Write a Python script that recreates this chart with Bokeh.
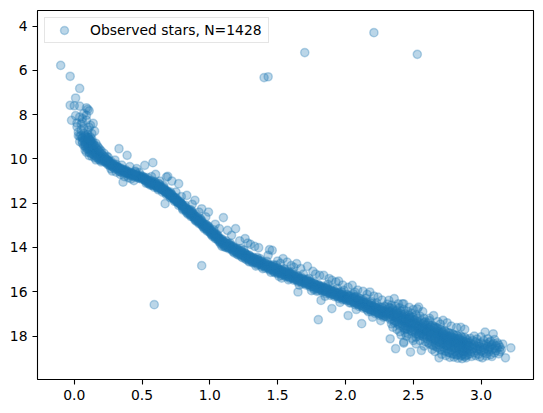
from bokeh.plotting import figure
from bokeh.models import Range1d, FixedTicker, PrintfTickFormatter
from bokeh.embed import file_html
from bokeh.resources import INLINE

# Colour index (BP-RP) and apparent G magnitude of cluster members, grouped along the main sequence
ms_top = [
    (-0.10, 5.78), (-0.03, 6.27), (0.04, 6.82), (0.01, 7.25), (-0.03, 7.58), (0.00, 7.60), (0.04, 7.62), (0.09, 7.70), (0.11, 7.83), (0.10, 7.76),
    (-0.02, 8.26), (0.04, 8.11), (0.06, 8.34), (0.09, 8.03), (0.03, 8.79), (0.04, 9.22), (0.12, 8.48), (0.13, 8.86), (0.02, 8.55), (0.07, 8.62),
    (0.05, 8.42), (0.08, 8.95), (0.10, 8.70), (0.06, 9.05), (0.11, 9.12), (0.03, 8.95), (0.09, 8.25), (0.14, 8.40), (0.01, 8.05), (0.07, 7.95),
    (0.12, 9.20), (0.08, 9.35), (0.05, 8.70), (0.10, 9.00), (0.13, 9.30), (0.04, 8.98), (0.15, 8.75), (0.06, 8.18), (0.11, 8.58), (0.02, 8.38),
]

ms_upper = [
    (0.07, 8.85), (0.10, 8.90), (0.05, 8.95), (0.09, 9.00), (0.12, 9.02), (0.06, 9.05), (0.08, 9.08), (0.11, 9.10), (0.13, 9.12), (0.07, 9.15),
    (0.09, 9.18), (0.10, 9.20), (0.12, 9.22), (0.08, 9.25), (0.14, 9.26), (0.11, 9.28), (0.06, 9.30), (0.09, 9.32), (0.13, 9.34), (0.10, 9.36),
    (0.12, 9.38), (0.15, 9.40), (0.08, 9.42), (0.11, 9.43), (0.14, 9.45), (0.10, 9.47), (0.13, 9.48), (0.16, 9.50), (0.12, 9.52), (0.09, 9.53),
    (0.14, 9.55), (0.11, 9.57), (0.17, 9.58), (0.13, 9.60), (0.15, 9.62), (0.12, 9.63), (0.18, 9.64), (0.14, 9.66), (0.16, 9.68), (0.11, 9.70),
    (0.15, 9.71), (0.19, 9.72), (0.13, 9.74), (0.17, 9.75), (0.16, 9.77), (0.20, 9.78), (0.14, 9.80), (0.18, 9.81), (0.15, 9.83), (0.21, 9.84),
    (0.17, 9.86), (0.19, 9.87), (0.16, 9.89), (0.22, 9.90), (0.18, 9.92), (0.20, 9.93), (0.17, 9.95), (0.23, 9.96), (0.19, 9.98), (0.21, 9.99),
    (0.18, 10.01), (0.24, 10.02), (0.20, 10.04), (0.22, 10.05), (0.19, 10.07), (0.25, 10.08), (0.21, 10.10), (0.23, 10.11), (0.26, 10.12), (0.20, 10.14),
    (0.10, 9.55), (0.08, 9.60), (0.12, 9.75), (0.07, 9.40), (0.15, 9.95), (0.09, 9.70), (0.13, 9.88), (0.06, 9.20), (0.16, 10.05), (0.11, 9.85),
    (0.18, 9.50), (0.14, 9.35), (0.16, 9.30), (0.20, 9.65), (0.12, 9.15), (0.22, 9.75), (0.17, 9.42), (0.24, 9.88), (0.19, 9.58), (0.10, 9.05),
]

ms_bend = [
    (0.22, 10.08), (0.23, 9.98), (0.23, 10.15), (0.24, 10.05), (0.24, 10.20), (0.25, 10.12), (0.25, 10.27), (0.26, 10.16), (0.26, 10.30), (0.27, 10.20),
    (0.27, 10.10), (0.28, 10.26), (0.28, 10.35), (0.29, 10.22), (0.29, 10.40), (0.30, 10.30), (0.30, 10.45), (0.31, 10.35), (0.31, 10.25), (0.32, 10.48),
    (0.32, 10.38), (0.33, 10.44), (0.33, 10.55), (0.34, 10.42), (0.34, 10.58), (0.35, 10.50), (0.35, 10.62), (0.36, 10.47), (0.36, 10.57), (0.37, 10.65),
    (0.37, 10.52), (0.38, 10.60), (0.38, 10.50), (0.39, 10.66), (0.39, 10.56), (0.40, 10.70), (0.40, 10.58), (0.41, 10.64), (0.41, 10.75), (0.42, 10.62),
    (0.42, 10.72), (0.43, 10.66), (0.43, 10.78), (0.44, 10.68), (0.44, 10.76), (0.45, 10.72), (0.45, 10.82), (0.46, 10.70), (0.46, 10.80), (0.47, 10.76),
    (0.47, 10.86), (0.48, 10.78), (0.48, 10.88), (0.49, 10.82), (0.49, 10.74), (0.50, 10.86), (0.50, 10.92), (0.30, 10.33), (0.33, 10.40), (0.36, 10.52),
    (0.24, 10.10), (0.26, 10.24), (0.28, 10.31), (0.31, 10.40), (0.34, 10.47), (0.37, 10.58), (0.40, 10.65), (0.43, 10.70), (0.46, 10.77), (0.49, 10.85),
    (0.25, 10.18), (0.27, 10.28), (0.29, 10.33), (0.32, 10.42), (0.35, 10.54), (0.38, 10.55), (0.41, 10.68), (0.44, 10.73), (0.47, 10.79), (0.50, 10.80),
    (0.23, 10.05), (0.26, 10.14), (0.29, 10.27), (0.32, 10.36), (0.35, 10.46), (0.39, 10.61), (0.42, 10.65), (0.45, 10.75), (0.48, 10.83), (0.38, 10.64),
    (0.33, 9.54), (0.39, 9.84), (0.52, 10.29), (0.58, 10.17), (0.46, 10.44), (0.36, 11.05), (0.30, 10.05), (0.41, 10.35), (0.28, 10.55), (0.44, 10.98),
    (0.35, 10.28), (0.27, 10.45), (0.40, 10.85), (0.31, 10.60), (0.45, 10.55), (0.48, 10.62), (0.25, 9.92), (0.37, 10.80), (0.42, 10.90), (0.34, 10.70),
]

ms_knee = [
    (0.51, 10.90), (0.51, 10.80), (0.52, 10.97), (0.52, 10.86), (0.53, 11.02), (0.53, 10.90), (0.54, 10.95), (0.54, 11.08), (0.55, 10.98), (0.55, 11.12),
    (0.56, 11.00), (0.56, 11.10), (0.57, 11.05), (0.57, 11.18), (0.58, 11.08), (0.58, 11.20), (0.59, 11.12), (0.59, 11.03), (0.60, 11.22), (0.60, 11.12),
    (0.61, 11.18), (0.61, 11.30), (0.62, 11.22), (0.62, 11.34), (0.63, 11.25), (0.63, 11.15), (0.64, 11.36), (0.64, 11.28), (0.65, 11.40), (0.65, 11.30),
    (0.66, 11.45), (0.66, 11.35), (0.67, 11.48), (0.67, 11.40), (0.68, 11.55), (0.68, 11.44), (0.69, 11.58), (0.69, 11.50), (0.70, 11.64), (0.70, 11.54),
    (0.71, 11.68), (0.71, 11.58), (0.72, 11.74), (0.72, 11.64), (0.73, 11.80), (0.73, 11.70), (0.74, 11.85), (0.74, 11.75), (0.75, 11.90), (0.75, 11.80),
    (0.76, 11.96), (0.76, 11.86), (0.77, 12.00), (0.77, 11.92), (0.78, 12.06), (0.78, 11.96), (0.79, 12.10), (0.79, 12.02), (0.80, 12.16), (0.80, 12.08),
    (0.52, 10.94), (0.55, 11.02), (0.58, 11.14), (0.61, 11.24), (0.64, 11.32), (0.67, 11.44), (0.70, 11.60), (0.73, 11.76), (0.76, 11.92), (0.79, 12.06),
    (0.53, 10.96), (0.56, 11.06), (0.59, 11.16), (0.62, 11.26), (0.65, 11.36), (0.68, 11.50), (0.71, 11.64), (0.74, 11.80), (0.77, 11.96), (0.80, 12.12),
    (0.54, 11.00), (0.57, 11.10), (0.60, 11.18), (0.63, 11.30), (0.66, 11.40), (0.69, 11.54), (0.72, 11.70), (0.75, 11.86), (0.78, 12.00), (0.51, 10.86),
    (0.55, 11.06), (0.58, 11.16), (0.61, 11.20), (0.64, 11.34), (0.67, 11.46), (0.70, 11.58), (0.73, 11.74), (0.76, 11.90), (0.79, 12.04), (0.62, 11.28),
    (0.57, 10.98), (0.60, 11.06), (0.63, 11.20), (0.66, 11.30), (0.69, 11.46), (0.72, 11.60), (0.75, 11.76), (0.78, 11.92), (0.53, 11.10), (0.59, 11.28),
    (0.65, 11.50), (0.71, 11.76), (0.77, 12.10), (0.68, 11.62), (0.74, 11.92), (0.56, 11.18), (0.62, 11.40), (0.80, 12.24), (0.54, 10.84), (0.66, 11.22),
    (0.69, 10.79), (0.72, 11.00), (0.77, 11.12), (0.68, 10.82), (0.60, 10.70), (0.67, 12.02), (0.75, 11.50), (0.57, 10.80), (0.63, 11.00), (0.79, 11.70),
]

ms_steep = [
    (0.81, 12.14), (0.81, 12.26), (0.82, 12.20), (0.82, 12.32), (0.83, 12.26), (0.83, 12.38), (0.84, 12.30), (0.84, 12.42), (0.85, 12.36), (0.85, 12.48),
    (0.86, 12.40), (0.86, 12.54), (0.87, 12.46), (0.87, 12.60), (0.88, 12.52), (0.88, 12.64), (0.89, 12.56), (0.89, 12.70), (0.90, 12.62), (0.90, 12.76),
    (0.91, 12.68), (0.91, 12.80), (0.92, 12.74), (0.92, 12.86), (0.93, 12.78), (0.93, 12.92), (0.94, 12.84), (0.94, 12.98), (0.95, 12.90), (0.95, 13.04),
    (0.96, 12.96), (0.96, 13.08), (0.97, 13.02), (0.97, 13.14), (0.98, 13.06), (0.98, 13.20), (0.99, 13.12), (0.99, 13.26), (1.00, 13.18), (1.00, 13.32),
    (1.01, 13.24), (1.01, 13.38), (1.02, 13.30), (1.02, 13.42), (1.03, 13.36), (1.03, 13.48), (1.04, 13.40), (1.04, 13.54), (1.05, 13.46), (1.05, 13.60),
    (1.06, 13.52), (1.06, 13.66), (1.07, 13.58), (1.07, 13.70), (1.08, 13.62), (1.08, 13.76), (1.09, 13.68), (1.09, 13.80), (1.10, 13.72), (1.10, 13.86),
    (0.82, 12.24), (0.85, 12.42), (0.88, 12.58), (0.91, 12.74), (0.94, 12.90), (0.97, 13.08), (1.00, 13.24), (1.03, 13.42), (1.06, 13.58), (1.09, 13.74),
    (0.83, 12.32), (0.86, 12.48), (0.89, 12.64), (0.92, 12.80), (0.95, 12.96), (0.98, 13.14), (1.01, 13.30), (1.04, 13.48), (1.07, 13.64), (1.10, 13.78),
    (0.84, 12.34), (0.87, 12.52), (0.90, 12.68), (0.93, 12.86), (0.96, 13.02), (0.99, 13.18), (1.02, 13.36), (1.05, 13.52), (1.08, 13.68), (0.81, 12.20),
    (0.82, 12.10), (0.85, 12.30), (0.88, 12.46), (0.91, 12.62), (0.94, 12.78), (0.97, 12.96), (1.00, 13.12), (1.03, 13.30), (1.06, 13.46), (1.09, 13.62),
    (0.83, 12.44), (0.86, 12.60), (0.89, 12.76), (0.92, 12.92), (0.95, 13.08), (0.98, 13.26), (1.01, 13.42), (1.04, 13.60), (1.07, 13.76), (1.10, 13.92),
    (0.84, 12.50), (0.90, 12.82), (0.96, 13.16), (1.02, 13.50), (1.08, 13.84), (0.87, 12.38), (0.93, 12.70), (0.99, 13.04), (1.05, 13.40), (0.80, 12.30),
    (0.83, 11.65), (0.89, 11.87), (0.99, 12.40), (1.10, 12.65), (0.87, 12.05), (0.94, 12.25), (1.04, 12.95), (0.92, 12.40), (1.07, 13.15), (0.97, 12.62),
]

ms_mid_a = [
    (1.11, 13.76), (1.11, 13.90), (1.12, 13.80), (1.12, 13.94), (1.13, 13.84), (1.13, 13.98), (1.14, 13.86), (1.14, 14.00), (1.15, 13.90), (1.15, 14.04),
    (1.16, 13.94), (1.16, 14.08), (1.17, 13.98), (1.17, 14.12), (1.18, 14.02), (1.18, 14.16), (1.19, 14.04), (1.19, 14.18), (1.20, 14.08), (1.20, 14.22),
    (1.21, 14.12), (1.21, 14.26), (1.22, 14.16), (1.22, 14.30), (1.23, 14.18), (1.23, 14.32), (1.24, 14.22), (1.24, 14.36), (1.25, 14.26), (1.25, 14.40),
    (1.26, 14.28), (1.26, 14.42), (1.27, 14.32), (1.27, 14.46), (1.28, 14.36), (1.28, 14.50), (1.29, 14.38), (1.29, 14.52), (1.30, 14.42), (1.30, 14.56),
    (1.31, 14.46), (1.31, 14.60), (1.32, 14.48), (1.32, 14.62), (1.33, 14.52), (1.33, 14.66), (1.34, 14.54), (1.34, 14.68), (1.35, 14.56), (1.35, 14.70),
    (1.36, 14.60), (1.36, 14.74), (1.37, 14.62), (1.37, 14.76), (1.38, 14.64), (1.38, 14.78), (1.39, 14.68), (1.39, 14.82), (1.40, 14.70), (1.40, 14.84),
    (1.12, 13.86), (1.15, 13.96), (1.18, 14.08), (1.21, 14.18), (1.24, 14.28), (1.27, 14.38), (1.30, 14.48), (1.33, 14.58), (1.36, 14.66), (1.39, 14.74),
    (1.13, 13.92), (1.16, 14.02), (1.19, 14.12), (1.22, 14.24), (1.25, 14.34), (1.28, 14.44), (1.31, 14.54), (1.34, 14.62), (1.37, 14.70), (1.40, 14.78),
    (1.14, 13.82), (1.17, 13.94), (1.20, 14.04), (1.23, 14.14), (1.26, 14.24), (1.29, 14.34), (1.32, 14.44), (1.35, 14.52), (1.38, 14.60), (1.11, 13.98),
    (1.14, 14.06), (1.17, 14.18), (1.20, 14.30), (1.23, 14.40), (1.26, 14.50), (1.29, 14.60), (1.32, 14.70), (1.35, 14.78), (1.38, 14.86), (1.18, 14.24),
    (1.13, 13.23), (1.19, 13.15), (1.26, 13.60), (1.30, 13.86), (1.36, 14.01), (1.44, 14.10), (1.16, 13.45), (1.22, 13.70), (1.33, 13.95), (1.28, 13.80),
    (1.24, 14.46), (1.34, 14.84), (1.12, 14.00), (1.21, 14.34), (1.31, 14.66), (1.37, 14.50), (1.25, 14.12), (1.15, 13.80), (1.39, 14.95), (1.27, 14.55),
]

ms_mid_b = [
    (1.41, 14.72), (1.41, 14.86), (1.42, 14.76), (1.42, 14.90), (1.43, 14.78), (1.43, 14.92), (1.44, 14.82), (1.44, 14.96), (1.45, 14.84), (1.45, 14.98),
    (1.46, 14.86), (1.46, 15.00), (1.47, 14.90), (1.47, 15.04), (1.48, 14.92), (1.48, 15.06), (1.49, 14.94), (1.49, 15.08), (1.50, 14.98), (1.50, 15.12),
    (1.51, 15.00), (1.51, 15.14), (1.52, 15.02), (1.52, 15.16), (1.53, 15.04), (1.53, 15.18), (1.54, 15.08), (1.54, 15.22), (1.55, 15.10), (1.55, 15.24),
    (1.56, 15.12), (1.56, 15.26), (1.57, 15.14), (1.57, 15.28), (1.58, 15.18), (1.58, 15.32), (1.59, 15.20), (1.59, 15.34), (1.60, 15.22), (1.60, 15.36),
    (1.61, 15.24), (1.61, 15.38), (1.62, 15.28), (1.62, 15.42), (1.63, 15.30), (1.63, 15.44), (1.64, 15.32), (1.64, 15.46), (1.65, 15.34), (1.65, 15.48),
    (1.66, 15.38), (1.66, 15.52), (1.67, 15.40), (1.67, 15.54), (1.68, 15.42), (1.68, 15.56), (1.69, 15.44), (1.69, 15.58), (1.70, 15.48), (1.70, 15.62),
    (1.42, 14.82), (1.45, 14.90), (1.48, 14.98), (1.51, 15.06), (1.54, 15.14), (1.57, 15.22), (1.60, 15.28), (1.63, 15.36), (1.66, 15.44), (1.69, 15.50),
    (1.43, 14.86), (1.46, 14.94), (1.49, 15.02), (1.52, 15.10), (1.55, 15.16), (1.58, 15.24), (1.61, 15.32), (1.64, 15.40), (1.67, 15.46), (1.70, 15.54),
    (1.44, 14.78), (1.47, 14.84), (1.50, 14.92), (1.53, 15.00), (1.56, 15.06), (1.59, 15.14), (1.62, 15.22), (1.65, 15.28), (1.68, 15.36), (1.41, 14.94),
    (1.44, 15.02), (1.47, 15.10), (1.50, 15.18), (1.53, 15.26), (1.56, 15.32), (1.59, 15.40), (1.62, 15.48), (1.65, 15.56), (1.68, 15.64), (1.48, 15.14),
    (1.46, 14.13), (1.50, 14.61), (1.57, 14.66), (1.64, 14.73), (1.54, 14.50), (1.60, 14.82), (1.43, 14.35), (1.67, 14.95), (1.52, 14.72), (1.62, 14.90),
    (1.65, 16.01), (1.58, 15.46), (1.45, 15.12), (1.53, 15.38), (1.66, 15.70), (1.49, 14.80), (1.61, 15.10), (1.55, 14.96), (1.69, 15.20), (1.42, 14.62),
]

ms_low_a = [
    (1.71, 15.48), (1.71, 15.62), (1.72, 15.52), (1.72, 15.66), (1.73, 15.54), (1.73, 15.68), (1.74, 15.56), (1.74, 15.70), (1.75, 15.60), (1.75, 15.74),
    (1.76, 15.62), (1.76, 15.76), (1.77, 15.64), (1.77, 15.78), (1.78, 15.68), (1.78, 15.82), (1.79, 15.70), (1.79, 15.84), (1.80, 15.72), (1.80, 15.86),
    (1.81, 15.74), (1.81, 15.88), (1.82, 15.78), (1.82, 15.92), (1.83, 15.80), (1.83, 15.94), (1.84, 15.82), (1.84, 15.96), (1.85, 15.84), (1.85, 15.98),
    (1.86, 15.86), (1.86, 16.00), (1.87, 15.88), (1.87, 16.02), (1.88, 15.92), (1.88, 16.06), (1.89, 15.94), (1.89, 16.08), (1.90, 15.96), (1.90, 16.10),
    (1.91, 15.98), (1.91, 16.12), (1.92, 16.00), (1.92, 16.14), (1.93, 16.04), (1.93, 16.18), (1.94, 16.06), (1.94, 16.20), (1.95, 16.08), (1.95, 16.22),
    (1.96, 16.10), (1.96, 16.24), (1.97, 16.12), (1.97, 16.26), (1.98, 16.14), (1.98, 16.28), (1.99, 16.18), (1.99, 16.32), (2.00, 16.20), (2.00, 16.34),
    (1.72, 15.58), (1.75, 15.66), (1.78, 15.74), (1.81, 15.80), (1.84, 15.88), (1.87, 15.94), (1.90, 16.02), (1.93, 16.10), (1.96, 16.16), (1.99, 16.22),
    (1.73, 15.62), (1.76, 15.70), (1.79, 15.76), (1.82, 15.84), (1.85, 15.90), (1.88, 15.98), (1.91, 16.04), (1.94, 16.12), (1.97, 16.18), (2.00, 16.26),
    (1.74, 15.52), (1.77, 15.60), (1.80, 15.68), (1.83, 15.74), (1.86, 15.82), (1.89, 15.88), (1.92, 15.96), (1.95, 16.04), (1.98, 16.10), (1.71, 15.70),
    (1.74, 15.78), (1.77, 15.86), (1.80, 15.94), (1.83, 16.00), (1.86, 16.08), (1.89, 16.16), (1.92, 16.22), (1.95, 16.30), (1.98, 16.36), (1.79, 15.98),
    (1.72, 14.85), (1.81, 15.26), (1.84, 15.26), (1.93, 15.56), (1.95, 15.52), (1.76, 15.08), (1.88, 15.40), (1.98, 15.70), (1.78, 15.20), (1.90, 15.48),
    (1.82, 16.39), (1.90, 16.76), (1.80, 17.26), (1.85, 16.20), (1.75, 15.95), (1.96, 16.48), (1.87, 15.66), (1.73, 15.40), (1.99, 15.94), (1.94, 15.84),
]

ms_low_b = [
    (2.01, 16.12), (2.01, 16.30), (2.02, 16.18), (2.02, 16.36), (2.03, 16.20), (2.03, 16.38), (2.04, 16.22), (2.04, 16.42), (2.05, 16.26), (2.05, 16.44),
    (2.06, 16.28), (2.06, 16.46), (2.07, 16.30), (2.07, 16.50), (2.08, 16.34), (2.08, 16.52), (2.09, 16.36), (2.09, 16.56), (2.10, 16.38), (2.10, 16.58),
    (2.11, 16.42), (2.11, 16.60), (2.12, 16.44), (2.12, 16.64), (2.13, 16.46), (2.13, 16.66), (2.14, 16.48), (2.14, 16.68), (2.15, 16.52), (2.15, 16.72),
    (2.16, 16.54), (2.16, 16.74), (2.17, 16.56), (2.17, 16.76), (2.18, 16.60), (2.18, 16.80), (2.19, 16.62), (2.19, 16.82), (2.20, 16.64), (2.20, 16.84),
    (2.21, 16.66), (2.21, 16.86), (2.22, 16.70), (2.22, 16.90), (2.23, 16.72), (2.23, 16.92), (2.24, 16.76), (2.24, 16.96), (2.25, 16.78), (2.25, 16.98),
    (2.26, 16.80), (2.26, 17.00), (2.27, 16.84), (2.27, 17.04), (2.28, 16.86), (2.28, 17.06), (2.29, 16.90), (2.29, 17.10), (2.30, 16.92), (2.30, 17.12),
    (2.02, 16.26), (2.05, 16.34), (2.08, 16.42), (2.11, 16.50), (2.14, 16.56), (2.17, 16.64), (2.20, 16.70), (2.23, 16.80), (2.26, 16.88), (2.29, 16.96),
    (2.03, 16.30), (2.06, 16.38), (2.09, 16.46), (2.12, 16.54), (2.15, 16.60), (2.18, 16.68), (2.21, 16.76), (2.24, 16.84), (2.27, 16.92), (2.30, 17.00),
    (2.04, 16.16), (2.07, 16.24), (2.10, 16.30), (2.13, 16.38), (2.16, 16.46), (2.19, 16.52), (2.22, 16.60), (2.25, 16.68), (2.28, 16.76), (2.01, 16.40),
    (2.04, 16.50), (2.07, 16.58), (2.10, 16.66), (2.13, 16.74), (2.16, 16.82), (2.19, 16.90), (2.22, 16.98), (2.25, 17.06), (2.28, 17.14), (2.11, 16.32),
    (2.05, 15.71), (2.13, 15.98), (2.18, 16.01), (2.24, 16.24), (2.02, 15.80), (2.09, 15.92), (2.16, 16.12), (2.21, 16.20), (2.27, 16.38), (2.07, 16.02),
    (2.02, 17.07), (2.12, 17.44), (2.08, 16.80), (2.20, 17.15), (2.26, 17.30), (2.15, 16.30), (2.23, 16.50), (2.29, 16.66), (2.06, 16.10), (2.17, 16.90),
]

ms_faint_a = [
    (2.31, 16.80), (2.31, 17.05), (2.32, 16.88), (2.32, 17.15), (2.33, 16.74), (2.33, 17.00), (2.34, 16.92), (2.34, 17.22), (2.35, 16.84), (2.35, 17.10),
    (2.36, 16.96), (2.36, 17.30), (2.37, 16.88), (2.37, 17.16), (2.38, 17.02), (2.38, 17.36), (2.39, 16.94), (2.39, 17.24), (2.40, 17.06), (2.40, 17.40),
    (2.41, 16.98), (2.41, 17.30), (2.42, 17.12), (2.42, 17.46), (2.43, 17.04), (2.43, 17.36), (2.44, 17.18), (2.44, 17.52), (2.45, 17.10), (2.45, 17.42),
    (2.46, 17.24), (2.46, 17.58), (2.47, 17.16), (2.47, 17.48), (2.48, 17.30), (2.48, 17.64), (2.49, 17.22), (2.49, 17.54), (2.50, 17.36), (2.50, 17.70),
    (2.51, 17.28), (2.51, 17.60), (2.52, 17.42), (2.52, 17.76), (2.53, 17.34), (2.53, 17.66), (2.54, 17.48), (2.54, 17.82), (2.55, 17.40), (2.55, 17.72),
    (2.56, 17.54), (2.56, 17.88), (2.57, 17.46), (2.57, 17.78), (2.58, 17.60), (2.58, 17.94), (2.59, 17.52), (2.59, 17.84), (2.60, 17.66), (2.60, 18.00),
    (2.31, 16.95), (2.34, 17.04), (2.37, 17.08), (2.40, 17.18), (2.43, 17.24), (2.46, 17.36), (2.49, 17.42), (2.52, 17.52), (2.55, 17.60), (2.58, 17.70),
    (2.32, 16.98), (2.35, 17.02), (2.38, 17.12), (2.41, 17.20), (2.44, 17.30), (2.47, 17.38), (2.50, 17.46), (2.53, 17.54), (2.56, 17.64), (2.59, 17.72),
    (2.33, 16.90), (2.36, 17.12), (2.39, 17.10), (2.42, 17.28), (2.45, 17.26), (2.48, 17.44), (2.51, 17.44), (2.54, 17.62), (2.57, 17.62), (2.60, 17.80),
    (2.32, 16.70), (2.35, 16.76), (2.38, 16.84), (2.41, 16.90), (2.44, 17.00), (2.47, 17.06), (2.50, 17.14), (2.53, 17.20), (2.56, 17.30), (2.59, 17.36),
    (2.33, 17.25), (2.36, 17.40), (2.39, 17.46), (2.42, 17.56), (2.45, 17.66), (2.48, 17.74), (2.51, 17.82), (2.54, 17.92), (2.57, 18.00), (2.60, 18.10),
    (2.34, 16.60), (2.37, 16.66), (2.40, 16.72), (2.43, 16.80), (2.46, 16.88), (2.49, 16.96), (2.52, 17.04), (2.55, 17.10), (2.58, 17.20), (2.31, 16.56),
    (2.36, 16.31), (2.43, 16.54), (2.54, 16.69), (2.32, 16.39), (2.39, 16.54), (2.42, 16.54), (2.47, 16.70), (2.50, 16.80), (2.57, 16.90), (2.53, 16.77),
    (2.37, 18.57), (2.48, 18.72), (2.56, 18.65), (2.33, 18.12), (2.43, 18.27), (2.50, 18.20), (2.43, 18.32), (2.45, 18.00), (2.52, 18.35), (2.58, 18.45),
    (2.35, 17.60), (2.40, 17.80), (2.46, 17.90), (2.38, 17.70), (2.44, 17.85), (2.52, 18.05), (2.55, 18.20), (2.41, 17.95), (2.49, 18.10), (2.59, 18.25),
    (2.34, 17.45), (2.37, 17.35), (2.40, 17.55), (2.43, 17.62), (2.46, 17.70), (2.49, 17.80), (2.52, 17.90), (2.55, 17.96), (2.58, 18.05), (2.47, 17.20),
]

ms_faint_b = [
    (2.61, 17.60), (2.61, 17.95), (2.62, 17.70), (2.62, 18.05), (2.63, 17.58), (2.63, 17.88), (2.64, 17.76), (2.64, 18.12), (2.65, 17.66), (2.65, 17.98),
    (2.66, 17.84), (2.66, 18.20), (2.67, 17.74), (2.67, 18.06), (2.68, 17.90), (2.68, 18.26), (2.69, 17.80), (2.69, 18.14), (2.70, 17.96), (2.70, 18.32),
    (2.71, 17.86), (2.71, 18.20), (2.72, 18.00), (2.72, 18.36), (2.73, 17.92), (2.73, 18.26), (2.74, 18.06), (2.74, 18.42), (2.75, 17.98), (2.75, 18.30),
    (2.76, 18.10), (2.76, 18.46), (2.77, 18.02), (2.77, 18.36), (2.78, 18.16), (2.78, 18.50), (2.79, 18.06), (2.79, 18.40), (2.80, 18.20), (2.80, 18.56),
    (2.81, 18.10), (2.81, 18.44), (2.82, 18.24), (2.82, 18.58), (2.83, 18.14), (2.83, 18.48), (2.84, 18.28), (2.84, 18.62), (2.85, 18.18), (2.85, 18.52),
    (2.86, 18.30), (2.86, 18.66), (2.87, 18.22), (2.87, 18.56), (2.88, 18.34), (2.88, 18.68), (2.89, 18.26), (2.89, 18.60), (2.90, 18.38), (2.90, 18.72),
    (2.61, 17.80), (2.64, 17.86), (2.67, 17.94), (2.70, 18.04), (2.73, 18.08), (2.76, 18.18), (2.79, 18.22), (2.82, 18.30), (2.85, 18.36), (2.88, 18.40),
    (2.62, 17.84), (2.65, 17.90), (2.68, 18.00), (2.71, 18.06), (2.74, 18.14), (2.77, 18.20), (2.80, 18.28), (2.83, 18.34), (2.86, 18.40), (2.89, 18.46),
    (2.63, 17.74), (2.66, 17.80), (2.69, 17.86), (2.72, 17.94), (2.75, 18.02), (2.78, 18.08), (2.81, 18.14), (2.84, 18.20), (2.87, 18.26), (2.90, 18.30),
    (2.62, 17.50), (2.65, 17.56), (2.68, 17.64), (2.71, 17.72), (2.74, 17.80), (2.77, 17.88), (2.80, 17.94), (2.83, 18.00), (2.86, 18.06), (2.89, 18.12),
    (2.63, 18.20), (2.66, 18.30), (2.69, 18.40), (2.72, 18.50), (2.75, 18.58), (2.78, 18.64), (2.81, 18.70), (2.84, 18.76), (2.87, 18.80), (2.90, 18.84),
    (2.64, 18.40), (2.67, 18.48), (2.70, 18.60), (2.73, 18.66), (2.76, 18.74), (2.79, 18.80), (2.82, 18.86), (2.85, 18.90), (2.88, 18.92), (2.61, 18.30),
    (2.65, 17.07), (2.72, 17.29), (2.85, 17.60), (2.62, 17.20), (2.68, 17.35), (2.75, 17.40), (2.78, 17.55), (2.82, 17.62), (2.88, 17.70), (2.70, 17.46),
    (2.69, 18.98), (2.86, 19.02), (2.80, 18.95), (2.74, 18.88), (2.66, 18.70), (2.77, 18.96), (2.83, 19.00), (2.89, 18.98), (2.71, 18.82), (2.64, 18.60),
    (2.61, 17.40), (2.64, 17.52), (2.67, 17.62), (2.70, 17.70), (2.73, 17.76), (2.76, 17.84), (2.79, 17.90), (2.82, 17.96), (2.85, 18.00), (2.88, 18.06),
    (2.62, 18.36), (2.65, 18.44), (2.68, 18.52), (2.71, 18.62), (2.74, 18.70), (2.77, 18.76), (2.80, 18.82), (2.83, 18.84), (2.86, 18.86), (2.89, 18.88),
    (2.63, 18.00), (2.66, 18.04), (2.69, 18.10), (2.72, 18.16), (2.75, 18.22), (2.78, 18.30), (2.81, 18.36), (2.84, 18.44), (2.87, 18.50), (2.90, 18.56),
    (2.66, 17.60), (2.72, 17.82), (2.78, 17.98), (2.84, 18.10), (2.90, 18.20), (2.69, 18.24), (2.75, 18.44), (2.81, 18.54), (2.87, 18.68), (2.63, 17.96),
]

ms_red_end = [
    (2.91, 18.30), (2.91, 18.62), (2.92, 18.44), (2.92, 18.80), (2.93, 18.36), (2.93, 18.70), (2.94, 18.50), (2.94, 18.20), (2.95, 18.40), (2.95, 18.76),
    (2.96, 18.54), (2.96, 18.26), (2.97, 18.66), (2.97, 18.44), (2.98, 18.34), (2.98, 18.82), (2.99, 18.58), (2.99, 18.48), (3.00, 18.30), (3.00, 18.68),
    (3.01, 18.52), (3.01, 18.98), (3.02, 18.40), (3.02, 18.74), (3.03, 17.82), (3.03, 18.56), (3.04, 18.36), (3.04, 18.90), (3.05, 18.62), (3.05, 18.46),
    (3.06, 18.28), (3.06, 18.70), (3.07, 18.50), (3.07, 18.84), (3.08, 18.40), (3.08, 18.60), (3.09, 17.90), (3.09, 18.34), (3.10, 18.56), (3.10, 18.76),
    (3.11, 18.44), (3.11, 18.66), (3.12, 18.30), (3.12, 18.54), (3.13, 18.80), (3.13, 18.40), (3.14, 18.50), (3.15, 18.62), (3.16, 18.36), (3.18, 18.98),
    (3.22, 18.53), (2.92, 18.10), (2.95, 18.00), (2.97, 18.14), (3.00, 18.04), (3.02, 18.20), (3.05, 18.12), (3.07, 18.24), (3.10, 18.16), (3.14, 18.70),
    (2.93, 18.92), (2.96, 18.88), (2.99, 18.94), (3.04, 18.80), (3.08, 18.92), (2.91, 18.46), (2.94, 18.58), (2.98, 18.60), (3.02, 18.62), (3.06, 18.52),
]

field = [
    (1.40, 6.33), (1.43, 6.29), (1.70, 5.20), (2.21, 4.30), (2.53, 5.28), (0.59, 16.58), (0.94, 14.82),
]

ms_extra = [
    (0.45, 10.60), (0.62, 11.10), (0.71, 11.50), (0.86, 12.30), (0.98, 13.00), (1.03, 13.20), (1.12, 13.70), (1.23, 14.05), (1.35, 14.45), (1.47, 14.78),
    (1.58, 15.08), (1.72, 15.44), (1.86, 15.78), (1.97, 16.00), (2.08, 16.22), (2.19, 16.44), (2.27, 16.70), (2.38, 16.96), (2.48, 17.12), (2.58, 17.40),
    (2.44, 17.70), (2.54, 18.00), (2.66, 18.14), (2.76, 18.30), (2.84, 18.52), (1.09, 13.95), (1.29, 14.65), (1.51, 15.30), (1.77, 15.92), (2.03, 16.50),
    (2.62, 17.30),
]

x_ticks = [0.0, 0.5, 1.0, 1.5, 2.0, 2.5, 3.0]
y_ticks = [4, 6, 8, 10, 12, 14, 16, 18]

groups = [ms_top, ms_upper, ms_bend, ms_knee, ms_steep, ms_mid_a, ms_mid_b,
          ms_low_a, ms_low_b, ms_faint_a, ms_faint_b, ms_red_end, field, ms_extra]
stars = [s for g in groups for s in g]
colour = [s[0] for s in stars]
mag = [s[1] for s in stars]

FONT = "DejaVu Sans"
BLUE = "#1f77b4"

p = figure(width=543, height=413, output_backend="svg", toolbar_location=None,
           x_range=Range1d(-0.271, 3.387), y_range=Range1d(19.96, 3.30),
           min_border_left=37, min_border_right=10, min_border_top=10, min_border_bottom=34,
           background_fill_color="white", border_fill_color="white")

p.scatter(colour, mag, size=8.2, marker="circle",
          fill_color=BLUE, fill_alpha=0.3, line_color=BLUE, line_alpha=0.3, line_width=1.5,
          legend_label=f"Observed stars, N={len(stars)}")

p.xgrid.visible = False
p.ygrid.visible = False
p.outline_line_color = "black"
p.outline_line_width = 1.1
p.outline_line_alpha = 1.0

p.xaxis.ticker = FixedTicker(ticks=x_ticks)
p.xaxis.formatter = PrintfTickFormatter(format="%.1f")
p.yaxis.ticker = FixedTicker(ticks=y_ticks)
p.yaxis.formatter = PrintfTickFormatter(format="%d")

for ax in (p.xaxis, p.yaxis):
    ax.axis_line_color = None
    ax.major_tick_line_color = "black"
    ax.major_tick_line_width = 1.1
    ax.major_tick_out = 5
    ax.major_tick_in = 0
    ax.minor_tick_line_color = None
    ax.major_label_text_font = FONT
    ax.major_label_text_font_size = "13.9px"
    ax.major_label_text_color = "black"
    ax.major_label_standoff = 5

lg = p.legend[0]
lg.location = "top_left"
lg.margin = 7
lg.padding = 2
lg.spacing = 0
lg.glyph_width = 34
lg.glyph_height = 20
lg.label_height = 20
lg.label_width = 176
lg.label_standoff = 9
lg.label_text_font = FONT
lg.label_text_font_size = "13.9px"
lg.label_text_color = "black"
lg.border_line_color = "#cccccc"
lg.border_line_width = 1
lg.background_fill_color = "white"
lg.background_fill_alpha = 0.8

open("out.html", "w").write(file_html(p, INLINE))
